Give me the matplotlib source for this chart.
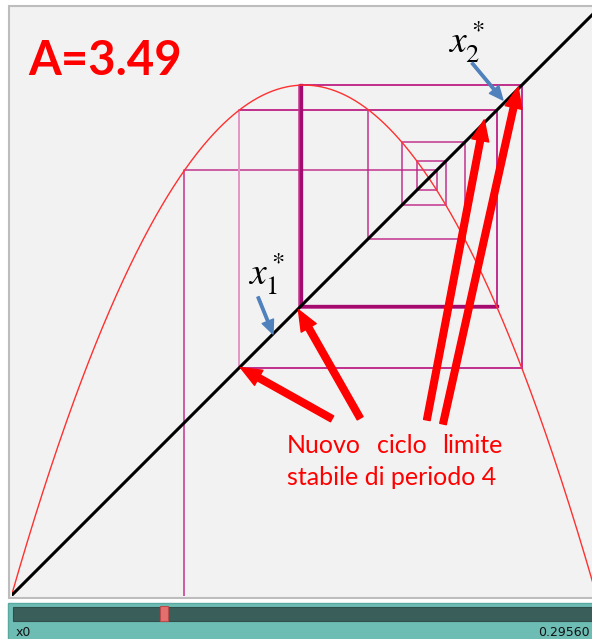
import numpy as np
import matplotlib.pyplot as plt
from matplotlib.patches import Rectangle, FancyArrowPatch

plt.rcParams['mathtext.fontset'] = 'stix'

# parametri della mappa logistica
A = 3.49
x0 = 0.29560
n_iter = 300

# iterazioni della mappa
xs = [x0]
for _ in range(n_iter):
    xs.append(A * xs[-1] * (1 - xs[-1]))

# percorso a ragnatela: (x0,0) -> (x0,x1) -> (x1,x1) -> ...
web_x, web_y = [x0], [0.0]
for k in range(n_iter):
    web_x += [xs[k], xs[k + 1]]
    web_y += [xs[k + 1], xs[k + 1]]

# ciclo limite di periodo 4 (ultimi 4 valori)
cyc = sorted(xs[-4:])

fig = plt.figure(figsize=(5.92, 6.39), dpi=100)

# sfondo: pannello del grafico e slider in coordinate pixel
bg = fig.add_axes([0, 0, 1, 1])
bg.set_xlim(0, 592)
bg.set_ylim(639, 0)
bg.axis('off')
bg.add_patch(Rectangle((9, 6), 600, 592, facecolor='#f2f2f2',
                       edgecolor='#bdbdbd', lw=1.5))
bg.add_patch(Rectangle((8, 603), 600, 40, facecolor='#6dbdb5',
                       edgecolor='#5aa9a1', lw=1))
bg.add_patch(Rectangle((13, 607), 600, 14, facecolor='#3a5f5b',
                       edgecolor='#2f4f4b', lw=0.8))
slider_left, slider_len = 13, 511
thumb_c = slider_left + x0 * slider_len
bg.add_patch(Rectangle((thumb_c - 4, 606), 8, 15, facecolor='#e46f6f',
                       edgecolor='#b94b4b', lw=0.8))
bg.text(16, 636, 'x0', fontsize=9, color='#111111', va='baseline')
bg.text(590, 636, '%.5f' % x0, fontsize=9, color='#111111',
        va='baseline', ha='right')

ax = fig.add_axes([11.5 / 592, (639 - 595.5) / 639, 585 / 592, 585 / 639])
ax.set_xlim(0, 1)
ax.set_ylim(0, 1)
ax.axis('off')
ax.patch.set_alpha(0)

# ragnatela
ax.plot(web_x, web_y, color='#c2338e', lw=1.1, zorder=2)
ax.plot([cyc[0], cyc[0]], [cyc[0], cyc[2]], color='#e39ac6', lw=1.4, zorder=2)
ax.plot([cyc[2], cyc[1], cyc[1]], [cyc[1], cyc[1], cyc[3]],
        color='#a50a6e', lw=2.4, zorder=3, solid_joinstyle='miter')

# parabola e bisettrice
xx = np.linspace(0, 1, 600)
ax.plot(xx, A * xx * (1 - xx), color='#ff3030', lw=1.0, zorder=4)
ax.plot([0, 1], [0, 1], color='black', lw=2.2, zorder=5)

ax.text(0.0282, 0.8897, 'A=%.2f' % A, fontsize=34, fontweight='bold',
        family='Lato', color='#ff0000', va='baseline')

# etichette dei punti del ciclo
ax.text(0.4043, 0.5308, r'$x_1^*$', fontsize=27, va='baseline', zorder=6)
ax.text(0.747, 0.9274, r'$x_2^*$', fontsize=27, va='baseline', zorder=6)


def freccia(tail, tip, style, scale, color):
    ax.add_patch(FancyArrowPatch(tail, tip, arrowstyle=style,
                                 mutation_scale=scale, color=color,
                                 shrinkA=0, shrinkB=0, zorder=7))


blue_style = 'simple,head_width=0.8,head_length=0.9,tail_width=0.16'
freccia((0.4214, 0.5103), (0.447, 0.447), blue_style, 11, '#4f81bd')
freccia((0.7872, 0.9103), (0.840, 0.847), blue_style, 11, '#4f81bd')

# frecce rosse verso i punti del ciclo
red_style = 'simple,head_width=0.62,head_length=0.75,tail_width=0.24'
tips = [(cyc[0] + 0.003, cyc[0] + 0.001), (cyc[1] - 0.004, cyc[1] - 0.006),
        (0.808, 0.813), (0.866, 0.869)]
tails = [(0.548, 0.302), (0.596, 0.303), (0.710, 0.300), (0.7376, 0.2932)]
for tip, tail in zip(tips, tails):
    freccia(tail, tip, red_style, 20, '#ff0000')

txt = dict(fontsize=18, family='Lato', color='#ff0000', va='baseline')
ax.text(0.4709, 0.2436, 'Nuovo', **txt)
ax.text(0.6248, 0.2436, 'ciclo', **txt)
ax.text(0.7359, 0.2436, 'limite', **txt)
ax.text(0.4709, 0.1889, 'stabile di periodo 4', **txt)

fig.savefig('out.png', dpi=100)
